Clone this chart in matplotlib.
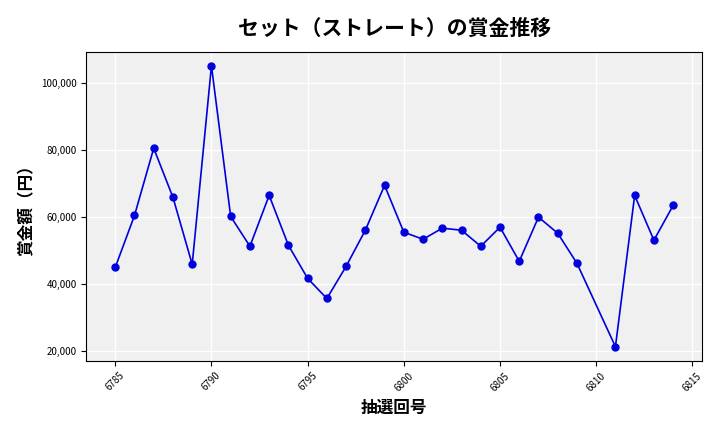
import matplotlib
matplotlib.use("Agg")
import matplotlib.pyplot as plt
from matplotlib.ticker import FuncFormatter

plt.rcParams['font.family'] = ['Noto Sans CJK JP', 'DejaVu Sans']

draws = [6785,6786,6787,6788,6789,6790,6791,6792,6793,6794,6795,6796,6797,6798,6799,
         6800,6801,6802,6803,6804,6805,6806,6807,6808,6809,6811,6812,6813,6814]
prizes = [44900,60400,80500,65800,45800,105100,60100,51200,66400,51500,41600,35600,45200,56000,69400,
          55400,53300,56600,56000,51200,56900,46700,59900,55100,46100,21200,66400,53000,63400]

fig, ax = plt.subplots(figsize=(7.2, 4.32), dpi=100)
ax.set_facecolor('#f0f0f0')
ax.grid(True, color='white', linewidth=1)
ax.set_axisbelow(True)
ax.plot(draws, prizes, color='#0000dd', marker='o', markersize=5, linewidth=1.2)
ax.set_title('セット（ストレート）の賞金推移', fontsize=15, fontweight='bold', pad=12)
ax.set_xlabel('抽選回号', fontsize=12, fontweight='bold')
ax.set_ylabel('賞金額（円）', fontsize=12, fontweight='bold')
ax.yaxis.set_major_formatter(FuncFormatter(lambda v, p: f'{int(v):,}'))
ax.set_xticks([6785,6790,6795,6800,6805,6810,6815])
ax.tick_params(axis='x', labelrotation=45, labelsize=7)
ax.tick_params(axis='y', labelsize=7)
ax.set_xlim(6783.5, 6815.5)
fig.subplots_adjust(left=0.12, right=0.975, top=0.88, bottom=0.165)
fig.savefig('out.png')
